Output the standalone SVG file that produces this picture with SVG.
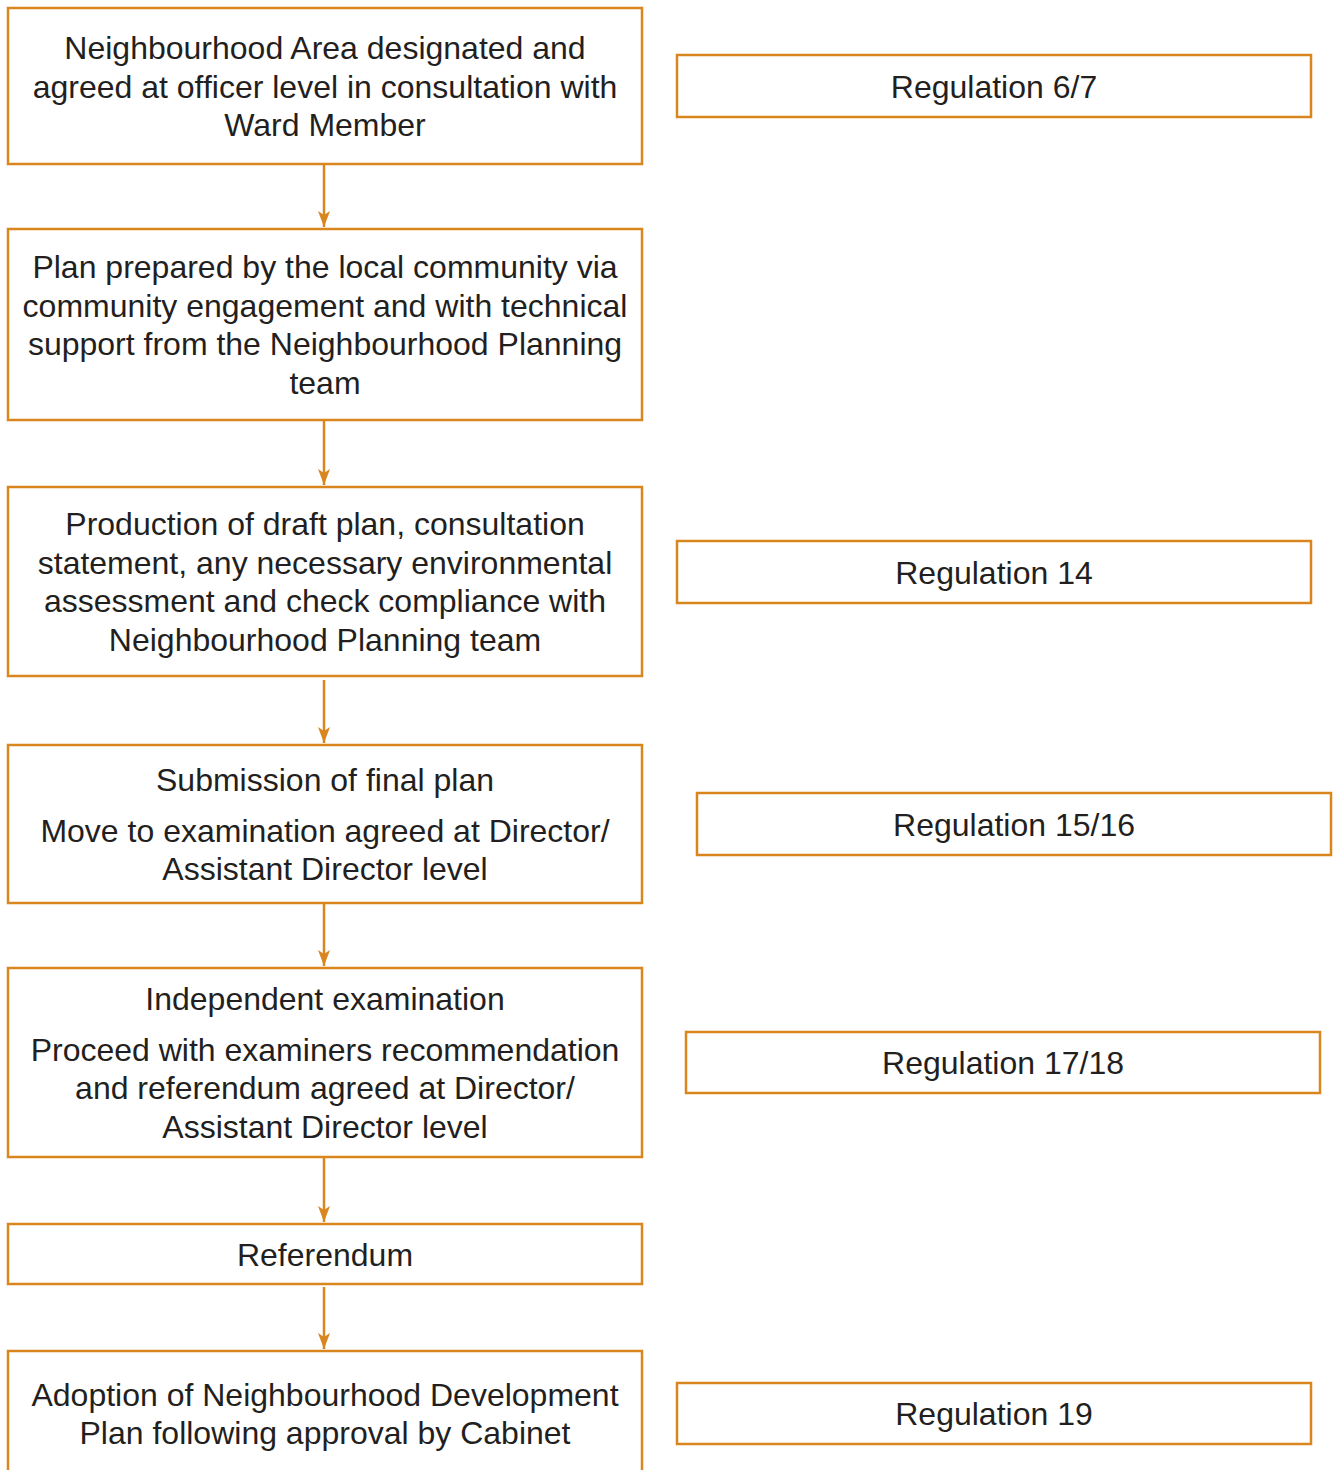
<svg xmlns="http://www.w3.org/2000/svg" width="1333" height="1470" viewBox="0 0 1333 1470">
<style>
.box{fill:#fff;stroke:#D9861E;stroke-width:2.5}
.t{font-family:"Liberation Sans",Arial,sans-serif;font-size:32px;fill:#231F20;text-anchor:middle}
.c{stroke:#D9861E;stroke-width:2.5;fill:none}
</style>
<defs>
<marker id="ah" markerWidth="16" markerHeight="12" refX="16" refY="6" orient="auto" markerUnits="userSpaceOnUse" viewBox="0 0 16 12">
<path d="M0,0 L16,6 L0,12 L4,6 Z" fill="#D9861E"/>
</marker>
</defs>
<rect width="1333" height="1470" fill="#fff"/>
<g id="connectors">
<line class="c" x1="324" y1="165" x2="324" y2="227" marker-end="url(#ah)"/>
<line class="c" x1="324" y1="421" x2="324" y2="485" marker-end="url(#ah)"/>
<line class="c" x1="324" y1="680" x2="324" y2="743" marker-end="url(#ah)"/>
<line class="c" x1="324" y1="904" x2="324" y2="966" marker-end="url(#ah)"/>
<line class="c" x1="324" y1="1158" x2="324" y2="1222" marker-end="url(#ah)"/>
<line class="c" x1="324" y1="1287" x2="324" y2="1349" marker-end="url(#ah)"/>
</g>
<g id="n1"><rect class="box" x="8" y="8" width="634" height="156"/>
<text class="t" x="325" y="59">Neighbourhood Area designated and</text>
<text class="t" x="325" y="98">agreed at officer level in consultation with</text>
<text class="t" x="325" y="136">Ward Member</text></g>
<g id="n2"><rect class="box" x="8" y="229" width="634" height="191"/>
<text class="t" x="325" y="278">Plan prepared by the local community via</text>
<text class="t" x="325" y="317">community engagement and with technical</text>
<text class="t" x="325" y="355">support from the Neighbourhood Planning</text>
<text class="t" x="325" y="394">team</text></g>
<g id="n3"><rect class="box" x="8" y="487" width="634" height="189"/>
<text class="t" x="325" y="535">Production of draft plan, consultation</text>
<text class="t" x="325" y="574">statement, any necessary environmental</text>
<text class="t" x="325" y="612">assessment and check compliance with</text>
<text class="t" x="325" y="651">Neighbourhood Planning team</text></g>
<g id="n4"><rect class="box" x="8" y="745" width="634" height="158"/>
<text class="t" x="325" y="791">Submission of final plan</text>
<text class="t" x="325" y="842">Move to examination agreed at Director/</text>
<text class="t" x="325" y="880">Assistant Director level</text></g>
<g id="n5"><rect class="box" x="8" y="968" width="634" height="189"/>
<text class="t" x="325" y="1010">Independent examination</text>
<text class="t" x="325" y="1061">Proceed with examiners recommendation</text>
<text class="t" x="325" y="1099">and referendum agreed at Director/</text>
<text class="t" x="325" y="1138">Assistant Director level</text></g>
<g id="n6"><rect class="box" x="8" y="1224" width="634" height="60"/>
<text class="t" x="325" y="1266">Referendum</text></g>
<g id="n7"><rect class="box" x="8" y="1351" width="634" height="140"/>
<text class="t" x="325" y="1406">Adoption of Neighbourhood Development</text>
<text class="t" x="325" y="1444">Plan following approval by Cabinet</text></g>
<g id="r1"><rect class="box" x="677" y="55" width="634" height="62"/>
<text class="t" x="994" y="98">Regulation 6/7</text></g>
<g id="r2"><rect class="box" x="677" y="541" width="634" height="62"/>
<text class="t" x="994" y="584">Regulation 14</text></g>
<g id="r3"><rect class="box" x="697" y="793" width="634" height="62"/>
<text class="t" x="1014" y="836">Regulation 15/16</text></g>
<g id="r4"><rect class="box" x="686" y="1032" width="634" height="61"/>
<text class="t" x="1003" y="1074">Regulation 17/18</text></g>
<g id="r5"><rect class="box" x="677" y="1383" width="634" height="61"/>
<text class="t" x="994" y="1425">Regulation 19</text></g>
</svg>
